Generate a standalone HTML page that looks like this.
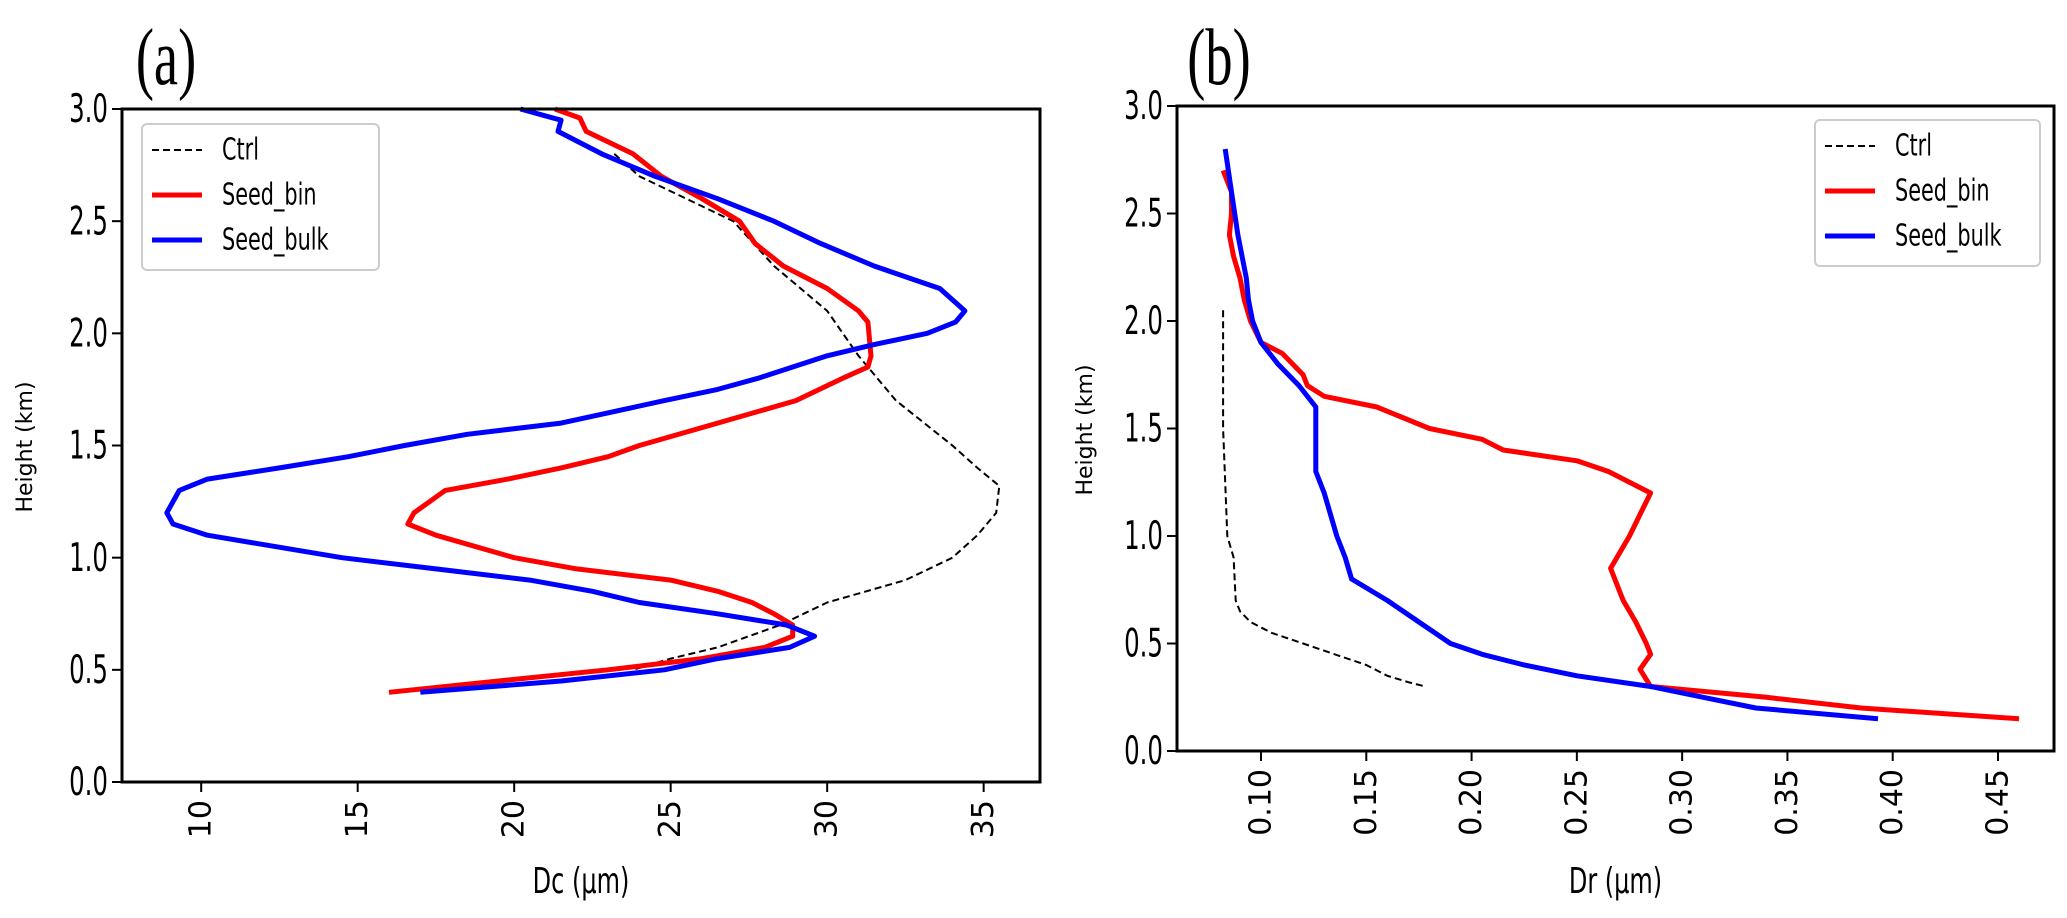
<!DOCTYPE html>
<html><head><meta charset="utf-8"><style>
body{margin:0;background:#fff}
svg text{font-family:"DejaVu Sans","Liberation Sans",sans-serif}
svg text.serif{font-family:"Liberation Serif",serif}
</style></head><body>
<svg id="fig" width="2067" height="913" viewBox="0 0 2067 913" xmlns="http://www.w3.org/2000/svg"></svg>
<script>
// Panel (a) data: Dc (µm) vs height (km)
const aCtrlH=[2.8,2.7,2.6,2.5,2.3,2.1,1.9,1.7,1.5,1.4,1.32,1.2,1.1,1.0,0.9,0.8,0.7,0.6,0.55,0.5];
const aCtrlX=[23.2,24,25.5,27,28.3,30,31,32.2,34,34.8,35.5,35.4,34.8,34,32.5,30,28.5,26.5,25,23.8];
const aBinH=[3.0,2.96,2.9,2.8,2.7,2.6,2.5,2.4,2.3,2.2,2.1,2.05,1.9,1.85,1.8,1.7,1.6,1.5,1.45,1.4,1.35,1.3,1.2,1.15,1.1,1.0,0.95,0.9,0.85,0.8,0.75,0.7,0.65,0.6,0.55,0.5,0.45,0.4];
const aBinX=[21.3,22.1,22.3,23.8,24.7,26,27.2,27.7,28.6,30,31,31.3,31.4,31.3,30.5,29,26.5,24,23,21.5,19.8,17.8,16.8,16.6,17.5,20,22,25,26.5,27.6,28.3,28.9,28.9,28,26,23,19.5,16];
const aBulkH=[3.0,2.95,2.9,2.8,2.7,2.6,2.5,2.4,2.3,2.2,2.1,2.05,2.0,1.95,1.9,1.8,1.75,1.7,1.6,1.55,1.5,1.45,1.4,1.35,1.3,1.2,1.15,1.1,1.0,0.95,0.9,0.85,0.8,0.75,0.7,0.65,0.6,0.55,0.5,0.45,0.4];
const aBulkX=[20.2,21.5,21.4,22.8,24.5,26.5,28.3,29.8,31.5,33.6,34.4,34.1,33.2,31.5,30,27.8,26.5,24.8,21.5,18.5,16.5,14.7,12.5,10.2,9.3,8.9,9.1,10.2,14.5,17.5,20.5,22.5,24,26.5,28.7,29.6,28.8,26.5,24.8,21.5,17];
const aXTicks=[10,15,20,25,30,35];
const aYTicks=[0.0,0.5,1.0,1.5,2.0,2.5,3.0];
// Panel (b) data: Dr (µm) vs height (km)
const bCtrlH=[2.05,1.5,1.0,0.9,0.7,0.65,0.6,0.55,0.5,0.45,0.4,0.35,0.32,0.3];
const bCtrlX=[0.082,0.082,0.084,0.087,0.088,0.09,0.095,0.105,0.12,0.135,0.15,0.16,0.17,0.178];
const bBinH=[2.7,2.6,2.5,2.4,2.3,2.2,2.1,2.0,1.9,1.85,1.75,1.7,1.65,1.6,1.5,1.45,1.4,1.35,1.3,1.2,1.1,1.0,0.85,0.7,0.6,0.5,0.45,0.38,0.3,0.25,0.2,0.15];
const bBinX=[0.082,0.086,0.086,0.085,0.087,0.09,0.092,0.095,0.1,0.11,0.12,0.122,0.13,0.155,0.18,0.205,0.215,0.25,0.265,0.285,0.28,0.275,0.266,0.272,0.278,0.283,0.285,0.28,0.285,0.34,0.385,0.46];
const bBulkH=[2.8,2.6,2.4,2.2,2.1,2.0,1.9,1.8,1.7,1.6,1.5,1.3,1.2,1.1,1.0,0.9,0.8,0.7,0.6,0.5,0.45,0.4,0.35,0.3,0.25,0.2,0.15];
const bBulkX=[0.083,0.086,0.089,0.093,0.094,0.096,0.1,0.108,0.118,0.126,0.126,0.126,0.13,0.133,0.136,0.14,0.143,0.16,0.175,0.19,0.205,0.225,0.25,0.285,0.31,0.335,0.393];
const bXTicks=[0.10,0.15,0.20,0.25,0.30,0.35,0.40,0.45];
const bYTicks=[0.0,0.5,1.0,1.5,2.0,2.5,3.0];

const NS="http://www.w3.org/2000/svg";
const svg=document.getElementById('fig');
function mk(tag,attrs,parent){const e=document.createElementNS(NS,tag);for(const k in attrs)e.setAttribute(k,attrs[k]);(parent||svg).appendChild(e);return e;}

function panel(cfg){
  const g=mk('g',{});
  
  
  const sx=v=>cfg.L+(v-cfg.x0)/(cfg.x1-cfg.x0)*(cfg.R-cfg.L);
  const sy=v=>cfg.B-(v-cfg.y0)/(cfg.y1-cfg.y0)*(cfg.B-cfg.T);
  cfg.series.forEach(s=>{
    const pts=s.x.map((v,i)=>sx(v).toFixed(1)+','+sy(s.h[i]).toFixed(1)).join(' ');
    const p=mk('polyline',{points:pts,fill:'none',stroke:s.color,'stroke-width':s.w,'stroke-linejoin':'round','stroke-dasharray':s.dash||'none'},g);
    
    
  });
  const fr=mk('rect',{x:cfg.L,y:cfg.T,width:cfg.R-cfg.L,height:cfg.B-cfg.T,fill:'none',stroke:'#000','stroke-width':3},g);
  
  
  cfg.xt.forEach(v=>{
    const x=sx(v);
    mk('line',{x1:x,y1:cfg.B,x2:x,y2:cfg.B+10,stroke:'#000','stroke-width':2},g);
    const t=mk('text',{x:0,y:0,'font-size':30,'text-anchor':'end','dominant-baseline':'central',transform:`translate(${x},${cfg.B+18}) rotate(-90)`},g);
    t.textContent=cfg.xfmt(v);
    
    
  });
  cfg.yt.forEach(v=>{
    const y=sy(v);
    mk('line',{x1:cfg.L-10,y1:y,x2:cfg.L,y2:y,stroke:'#000','stroke-width':2},g);
    const t=mk('text',{x:0,y:0,'font-size':34,'text-anchor':'end','dominant-baseline':'central',transform:`translate(${cfg.L-14},${y}) scale(0.72,1.15)`},g);
    t.textContent=v.toFixed(1);
    
    
  });
  const xt=mk('text',{x:0,y:0,'font-size':30,'text-anchor':'middle',transform:`translate(${(cfg.L+cfg.R)/2},${893}) scale(0.8,1.2)`},g);
  xt.textContent=cfg.xlabel;
  
  
  const yt=mk('text',{x:0,y:0,'font-size':22,'text-anchor':'middle',transform:`translate(${cfg.ylx},${cfg.yly}) rotate(-90)`},g);
  yt.textContent='Height (km)';
  
  
  const pl=mk('text',{x:0,y:0,'font-size':64,'class':'serif','text-anchor':'middle',transform:`translate(${cfg.lx},84) scale(0.85,1.25)`},g);
  pl.textContent=cfg.letter;
  
  
  const lg=mk('g',{},g);
  
  
  mk('rect',{x:cfg.lgX,y:cfg.lgY,width:cfg.lgW,height:146,rx:5,fill:'#fff','fill-opacity':0.85,stroke:'#ccc','stroke-width':2},lg);
  cfg.series.forEach((s,i)=>{
    const y=cfg.lgY+26+i*45;
    const ln=mk('line',{x1:cfg.lgX+10,y1:y,x2:cfg.lgX+60,y2:y,stroke:s.color,'stroke-width':s.w,'stroke-dasharray':s.dash||'none'},lg);
    
    
    const t=mk('text',{x:0,y:0,'font-size':26,'dominant-baseline':'central',transform:`translate(${cfg.lgX+80},${y}) scale(0.8,1.15)`},lg);
    t.textContent=s.label;
    
    
  });
}

panel({name:'panel-a',L:122,R:1040,T:109,B:782,x0:7.47,x1:36.8,y0:0,y1:3,
  xt:aXTicks,yt:aYTicks,xfmt:v=>String(v),xlabel:'Dc (µm)',ylx:32,yly:447,letter:'(a)',lx:166,
  lgX:142,lgY:124,lgW:237,
  series:[
    {name:'ctrl-line',label:'Ctrl',x:aCtrlX,h:aCtrlH,color:'#000',w:2,dash:'7,4'},
    {name:'seed-bin-line',label:'Seed_bin',x:aBinX,h:aBinH,color:'#ff0000',w:5},
    {name:'seed-bulk-line',label:'Seed_bulk',x:aBulkX,h:aBulkH,color:'#0000ff',w:5}]});
panel({name:'panel-b',L:1177,R:2054,T:106,B:751,x0:0.0601,x1:0.4766,y0:0,y1:3,
  xt:bXTicks,yt:bYTicks,xfmt:v=>v.toFixed(2),xlabel:'Dr (µm)',ylx:1092,yly:430,letter:'(b)',lx:1219,
  lgX:1815,lgY:120,lgW:225,
  series:[
    {name:'ctrl-line',label:'Ctrl',x:bCtrlX,h:bCtrlH,color:'#000',w:2,dash:'7,4'},
    {name:'seed-bin-line',label:'Seed_bin',x:bBinX,h:bBinH,color:'#ff0000',w:5},
    {name:'seed-bulk-line',label:'Seed_bulk',x:bBulkX,h:bBulkH,color:'#0000ff',w:5}]});
</script>
</body></html>
